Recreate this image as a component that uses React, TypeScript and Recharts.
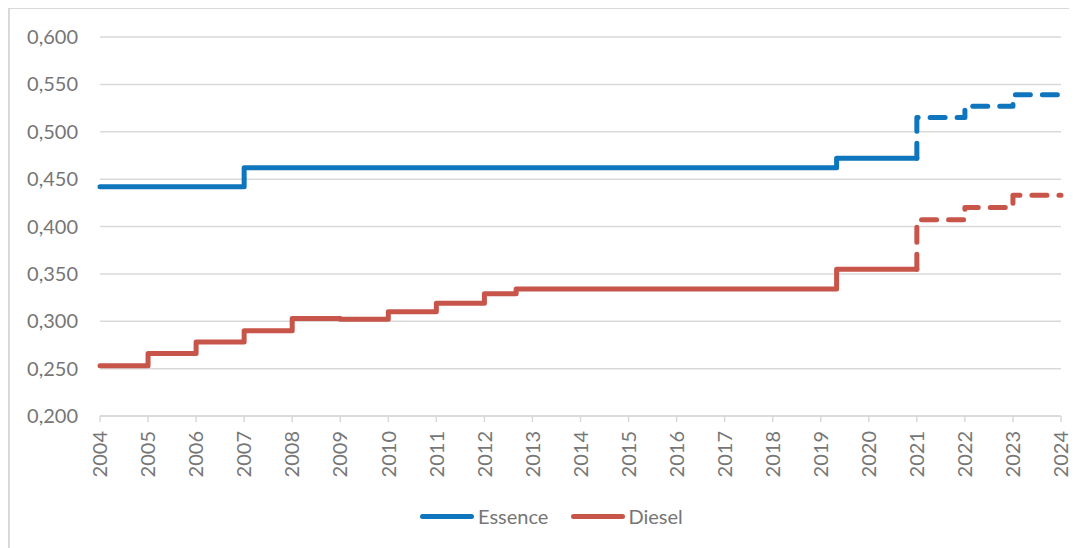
import { LineChart, Line, XAxis, YAxis, CartesianGrid, Legend } from 'recharts'

// x-axis ticks (years) and y-axis ticks
const yearTicks = [2004, 2005, 2006, 2007, 2008, 2009, 2010, 2011, 2012, 2013, 2014, 2015, 2016, 2017, 2018, 2019, 2020, 2021, 2022, 2023, 2024]
const valueTicks = [0.2, 0.25, 0.3, 0.35, 0.4, 0.45, 0.5, 0.55, 0.6]

// Essence: step changes, actual then planned (dashed)
const essenceYears = [2004, 2007, 2019.33, 2021]
const essenceValues = [0.442, 0.462, 0.472, 0.472]
const essencePlanYears = [2021, 2021, 2022, 2023, 2024]
const essencePlanValues = [0.472, 0.515, 0.527, 0.539, 0.539]

// Diesel
const dieselYears = [2004, 2005, 2006, 2007, 2008, 2009, 2010, 2011, 2012, 2012.66, 2019.33, 2021]
const dieselValues = [0.253, 0.266, 0.278, 0.29, 0.303, 0.302, 0.31, 0.319, 0.329, 0.334, 0.355, 0.355]
const dieselPlanYears = [2021, 2021, 2022, 2023, 2024]
const dieselPlanValues = [0.355, 0.407, 0.42, 0.433, 0.433]

const BLUE = '#0F75BD'
const RED = '#C8554A'
const GRID = '#D9D9D9'
const TEXT = '#767676'
const FONT = 'Lato, "Open Sans", sans-serif'

const toPoints = (years: number[], values: number[]) =>
  years.map((year, i) => ({ year, value: values[i] }))

const fmt = (v: number) => v.toFixed(3).replace('.', ',')

const YearTick = ({ x, y, payload }: any) => (
  <g transform={`translate(${x},${y})`}>
    <text
      transform="rotate(-90)"
      x={-7}
      y={0}
      dy="0.36em"
      textAnchor="end"
      fill={TEXT}
      fontSize={20}
      fontFamily={FONT}
    >
      {payload.value}
    </text>
  </g>
)

const LegendContent = () => (
  <div style={{ height: 24, display: 'flex', alignItems: 'center', paddingLeft: 410, fontFamily: FONT, fontSize: 20, color: TEXT }}>
    <span style={{ width: 54, height: 5, borderRadius: 3, background: BLUE, display: 'inline-block' }} />
    <span style={{ marginLeft: 4 }}>Essence</span>
    <span style={{ width: 54, height: 5, borderRadius: 3, background: RED, display: 'inline-block', marginLeft: 23 }} />
    <span style={{ marginLeft: 3 }}>Diesel</span>
  </div>
)

export default function App() {
  const lineProps = {
    type: 'stepAfter' as const,
    dataKey: 'value',
    strokeWidth: 5,
    strokeLinecap: 'round' as const,
    strokeLinejoin: 'round' as const,
    dot: false,
    activeDot: false,
    isAnimationActive: false,
  }
  return (
    <div style={{ width: 1069, height: 560, borderTop: `1px solid ${GRID}`, borderLeft: `2px solid ${GRID}`, boxSizing: 'border-box', background: '#fff' }}>
      <style>{'body{overflow:hidden}'}</style>
      <LineChart width={1067} height={539} margin={{ top: 28, right: 16, bottom: 20, left: 0 }}>
        <CartesianGrid horizontal vertical={false} stroke={GRID} strokeWidth={1.5} />
        <XAxis
          dataKey="year"
          type="number"
          domain={[2004, 2024]}
          ticks={yearTicks}
          interval={0}
          height={88}
          tick={<YearTick />}
          stroke={GRID}
          strokeWidth={1.5}
          tickSize={6}
        />
        <YAxis
          type="number"
          domain={[0.2, 0.6]}
          ticks={valueTicks}
          width={90}
          axisLine={false}
          tickLine={false}
          tickMargin={16}
          tickFormatter={fmt}
          tick={{ fill: TEXT, fontSize: 20, fontFamily: FONT }}
        />
        <Legend verticalAlign="bottom" content={<LegendContent />} wrapperStyle={{ left: 0, width: 1067 }} />
        <Line {...lineProps} data={toPoints(dieselYears, dieselValues)} stroke={RED} name="Diesel" />
        <Line {...lineProps} data={toPoints(dieselPlanYears, dieselPlanValues)} stroke={RED} strokeDasharray="15 12" legendType="none" />
        <Line {...lineProps} data={toPoints(essenceYears, essenceValues)} stroke={BLUE} name="Essence" />
        <Line {...lineProps} data={toPoints(essencePlanYears, essencePlanValues)} stroke={BLUE} strokeDasharray="15 12" legendType="none" />
      </LineChart>
    </div>
  )
}
